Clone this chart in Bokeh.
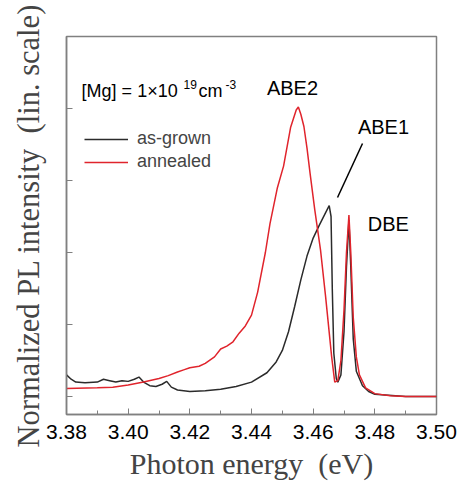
from bokeh.plotting import figure
from bokeh.models import Range1d, FixedTicker, Legend, LegendItem, NumeralTickFormatter
from bokeh.embed import file_html
from bokeh.resources import INLINE
from bokeh.core.properties import value

# ---- data ----
energy_grown = [3.380, 3.3815, 3.383, 3.386, 3.390, 3.392, 3.394, 3.396, 3.398, 3.400,
                3.402, 3.4035, 3.405, 3.407, 3.409, 3.411, 3.4125, 3.414, 3.416, 3.420,
                3.425, 3.430, 3.435, 3.440, 3.445, 3.448, 3.450, 3.452, 3.454, 3.456,
                3.458, 3.460, 3.462, 3.464, 3.4652, 3.4658, 3.4662, 3.4667, 3.4675, 3.468,
                3.469, 3.470, 3.4708, 3.4716, 3.4722, 3.473, 3.474, 3.476, 3.478, 3.480,
                3.490, 3.500]
intensity_grown = [0.30, 0.24, 0.20, 0.19, 0.20, 0.24, 0.22, 0.20, 0.22, 0.21,
                   0.24, 0.27, 0.20, 0.15, 0.14, 0.17, 0.21, 0.13, 0.09, 0.07,
                   0.08, 0.10, 0.14, 0.20, 0.33, 0.48, 0.64, 0.90, 1.25, 1.62,
                   1.95, 2.20, 2.38, 2.55, 2.65, 2.50, 1.50, 0.60, 0.25, 0.20,
                   0.30, 0.90, 1.80, 2.45, 1.80, 0.80, 0.35, 0.15, 0.07, 0.03,
                   0.00, 0.00]

energy_annealed = [3.380, 3.390, 3.395, 3.400, 3.405, 3.410, 3.413, 3.416, 3.418, 3.420,
                   3.423, 3.425, 3.428, 3.430, 3.432, 3.434, 3.436, 3.438, 3.440, 3.442,
                   3.4445, 3.446, 3.4484, 3.4504, 3.4527, 3.4545, 3.4552, 3.456, 3.457, 3.458,
                   3.459, 3.4605, 3.4624, 3.464, 3.466, 3.467, 3.468, 3.469, 3.470, 3.4708,
                   3.4716, 3.4722, 3.473, 3.474, 3.475, 3.477, 3.480, 3.485, 3.490, 3.500]
intensity_annealed = [0.11, 0.12, 0.13, 0.16, 0.20, 0.25, 0.29, 0.34, 0.37, 0.40,
                      0.42, 0.46, 0.55, 0.66, 0.70, 0.76, 0.88, 0.98, 1.13, 1.45,
                      2.00, 2.40, 2.90, 3.20, 3.74, 3.98, 4.02, 3.92, 3.75, 3.45,
                      3.10, 2.60, 2.03, 1.40, 0.55, 0.20, 0.22, 0.50, 1.20, 2.00,
                      2.52, 2.00, 1.10, 0.55, 0.30, 0.12, 0.04, 0.01, 0.00, 0.00]

x_ticks = [3.38, 3.40, 3.42, 3.44, 3.46, 3.48, 3.50]
x_minor = [3.39, 3.41, 3.43, 3.45, 3.47, 3.49]
y_ticks = [0, 1, 2, 3, 4]

peak_labels = ["ABE2", "ABE1", "DBE"]
peak_label_x = [3.4533, 3.4828, 3.4844]
peak_label_y = [4.28, 3.74, 2.39]

SANS = "Liberation Sans"
SERIF = "Liberation Serif"
GRAY = "#808080"
RED = "#e0242c"
BLACK = "#2b2b2b"

p = figure(width=466, height=489, output_backend="svg", toolbar_location=None,
           x_range=Range1d(3.38, 3.50), y_range=Range1d(-0.25, 5.0),
           min_border_left=66, min_border_right=30, min_border_top=36, min_border_bottom=75)
p.grid.visible = False
p.outline_line_color = GRAY
p.outline_line_width = 1.5
p.background_fill_color = "white"
p.border_fill_color = "white"

r_grown = p.line(energy_grown, intensity_grown, color=BLACK, line_width=1.5)
r_ann = p.line(energy_annealed, intensity_annealed, color=RED, line_width=1.5)

# axes
xa = p.xaxis[0]
xa.ticker = FixedTicker(ticks=x_ticks, minor_ticks=x_minor)
xa.formatter = NumeralTickFormatter(format="0.00")
xa.major_tick_in = 6
xa.major_tick_out = 0
xa.minor_tick_in = 4
xa.minor_tick_out = 0
xa.major_tick_line_color = GRAY
xa.minor_tick_line_color = GRAY
xa.axis_line_color = GRAY
xa.axis_line_width = 1.5
xa.major_label_text_font = SANS
xa.major_label_text_font_size = "21px"
xa.major_label_text_color = "black"
xa.major_label_standoff = 10
xa.axis_label = "Photon energy\u00a0 (eV)"
xa.axis_label_text_font = SERIF
xa.axis_label_text_font_style = "normal"
xa.axis_label_text_font_size = "30px"
xa.axis_label_standoff = 5

ya = p.yaxis[0]
ya.ticker = FixedTicker(ticks=y_ticks, minor_ticks=[])
ya.major_label_overrides = {t: "" for t in y_ticks}
ya.major_tick_in = 6
ya.major_tick_out = 0
ya.major_tick_line_color = GRAY
ya.axis_line_color = GRAY
ya.axis_line_width = 1.5
ya.axis_label = "Normalized PL intensity\u00a0 (lin. scale)"
ya.axis_label_text_font = SERIF
ya.axis_label_text_font_style = "normal"
ya.axis_label_text_font_size = "30.5px"
ya.axis_label_standoff = 21

# legend
legend = Legend(items=[LegendItem(label="as-grown", renderers=[r_grown]),
                       LegendItem(label="annealed", renderers=[r_ann])],
                location=(18, 242), glyph_width=44, glyph_height=20, label_height=20,
                spacing=2, padding=0, margin=0, label_standoff=9,
                label_text_font=SANS, label_text_font_size="18px",
                border_line_color=None, background_fill_alpha=0)
p.add_layout(legend)

# peak labels
p.text(x=peak_label_x, y=peak_label_y, text=peak_labels, text_font=value(SANS),
       text_font_size="20px", text_align="center", text_baseline="middle", text_color="black")

# concentration label with superscripts
p.text(x=[3.3849], y=[4.25], text=["[Mg] = 1\u00d710"], text_font=value(SANS),
       text_font_size="18px", text_baseline="middle", text_color="black")
p.text(x=[3.41795, 3.43157], y=[4.33, 4.33], text=["19", "-3"], text_font=value(SANS),
       text_font_size="12px", text_baseline="middle", text_color="black")
p.text(x=[3.42281], y=[4.25], text=["cm"], text_font=value(SANS),
       text_font_size="18px", text_baseline="middle", text_color="black")

# arrow line to ABE1
p.segment(x0=[3.4760], y0=[3.514], x1=[3.4679], y1=[2.764], color="black", line_width=1.5)

open("out.html", "w").write(file_html(p, INLINE))
